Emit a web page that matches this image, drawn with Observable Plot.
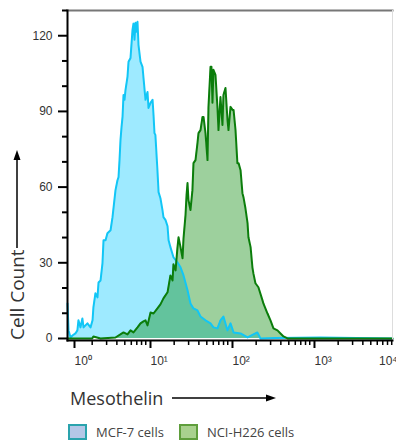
<!DOCTYPE html>
<html>
<head>
<meta charset="utf-8">
<script src="https://cdn.jsdelivr.net/npm/d3@7"></script>
<script src="https://cdn.jsdelivr.net/npm/@observablehq/plot@0.6"></script>
<style>
  html, body { margin: 0; padding: 0; background: #fff; }
  #wrap { position: relative; width: 396px; height: 440px; overflow: hidden; font-family: "Open Sans", "Liberation Sans", sans-serif; color: #333; }
  #chart { position: absolute; left: 0; top: 0; }
  #ylab { position: absolute; width: 196px; height: 26px; left: -81px; top: 229px; display: flex; align-items: center; transform: rotate(-90deg); font-size: 19px; white-space: nowrap; }
  #xlab { position: absolute; left: 70px; top: 386px; display: flex; align-items: center; font-size: 18px; white-space: nowrap; }
  #legend { position: absolute; left: 68px; top: 423px; display: flex; align-items: center; font-size: 13px; color: #444; white-space: nowrap; }
  .sw { width: 15px; height: 12px; border: 2px solid; margin-right: 9px; }
</style>
</head>
<body>
<div id="wrap">
  <div id="chart"></div>
  <div id="ylab"><span>Cell Count</span><svg width="98" height="12" style="margin-left:1px"><line x1="0" y1="6" x2="90" y2="6" stroke="#000" stroke-width="1.5"/><polygon points="98,6 88,2.5 88,9.5" fill="#000"/></svg></div>
  <div id="xlab"><span>Mesothelin</span><svg width="112" height="12" style="margin-left:9px"><line x1="0" y1="6" x2="96" y2="6" stroke="#000" stroke-width="1.5"/><polygon points="104,6 94,2.5 94,9.5" fill="#000"/></svg></div>
  <div id="legend"></div>
</div>
<script>
// ---- data ----
const seriesNames = ["MCF-7 cells", "NCI-H226 cells"];
const mcfX = [1.0,1.03,1.09,1.15,1.25,1.32,1.36,1.44,1.52,1.57,1.75,1.91,2.02,2.07,2.19,2.32,2.39,2.53,2.67,2.75,2.91,3.07,3.35,3.54,3.85,4.07,4.19,4.31,4.43,4.56,4.69,4.82,4.96,5.10,5.39,5.55,5.87,6.21,6.38,6.56,6.75,6.94,7.14,7.34,7.77,8.22,8.45,8.94,9.46,9.72,10.3,10.9,11.2,11.5,11.8,12.5,12.9,13.6,14.4,14.8,15.7,16.6,17.1,18.0,19.6,21.9,23.9,26.0,29.1,31.6,34.4,38.5,41.9,48.2,55.5,60.3,67.5,73.4,79.8,89.4,97.3,106,129,157,207,226,344,1217,9190];
const mcfY = [13.9,3.2,0.4,1.2,2.0,3.2,7.2,4.4,7.9,4.4,6.0,4.4,7.2,12.3,17.9,16.3,22.2,23.0,29.8,38.9,38.9,41.7,42.9,48.1,58.8,62.7,63.9,70.7,78.7,83.8,87.8,96.5,94.6,98.5,103.7,109.7,111.2,122.4,124.8,118.4,125.1,121.6,125.5,116.4,109.7,107.7,103.3,94.6,97.7,91.4,93.4,94.6,88.6,81.4,80.7,66.7,58.0,55.6,50.9,48.1,46.9,44.5,38.9,36.2,32.2,30.2,28.2,25.0,19.1,13.9,11.9,11.1,8.7,7.2,6.0,4.4,4.0,7.2,8.7,3.2,6.0,2.4,2.0,0.4,2.4,0,0.2,0.4,0];
const nciX = [1.0,2.0,2.07,2.53,3.85,4.82,5.39,5.87,6.38,7.14,7.77,8.45,8.94,9.46,10.3,11.2,12.5,13.6,14.8,16.6,18.0,19.1,19.6,20.8,21.9,22.6,23.9,25.3,26.0,27.5,28.3,29.1,29.9,31.6,33.4,34.4,36.4,38.5,39.6,41.9,44.3,45.6,48.2,51.0,52.4,55.5,57.0,58.6,60.3,63.8,67.5,69.4,73.4,77.6,79.8,84.5,89.4,91.9,97.3,103,106,112,118,122,129,136,140,148,157,161,171,180,185,196,213,239,245,275,299,325,364,396,431,482,693,9190];
const nciY = [0,0,0.8,0,0.4,2.4,1.6,3.2,2.4,4.4,6.0,6.8,7.2,5.2,10.3,9.9,11.9,13.5,15.9,18.3,25.0,23.0,29.4,27.0,35.8,40.1,36.2,31.8,39.7,48.9,56.8,61.6,54.8,50.9,58.8,69.5,70.7,77.5,81.4,82.6,87.8,87.8,81.4,70.7,91.8,107.7,107.7,93.4,106.5,104.5,91.4,82.6,95.7,84.6,96.5,99.3,86.6,82.6,91.8,90.6,90.6,82.6,69.5,69.5,66.7,57.6,56.0,51.6,45.7,40.1,36.2,28.2,25.8,21.9,20.3,15.1,13.9,9.9,7.2,4.0,3.2,2.0,0.8,0,0,0];
const yMajorTicks = [0, 30, 60, 90, 120];
const yMinorTicks = [10, 20, 40, 50, 70, 80, 100, 110, 130];
const xMajorTicks = [1, 10, 100, 1000, 10000];
const xMinorTicks = [2,3,4,5,6,7,8,9,20,30,40,50,60,70,80,90,200,300,400,500,600,700,800,900,2000,3000,4000,5000,6000,7000,8000,9000];

// ---- tables ----
const mcf = mcfX.map((x, i) => ({x, y: mcfY[i]}));
const nci = nciX.map((x, i) => ({x, y: nciY[i]}));
const supDigits = {0: "\u2070", 1: "\u00B9", 2: "\u00B2", 3: "\u00B3", 4: "\u2074"};
const fmt = d => "10" + supDigits[Math.round(Math.log10(d))];

const chart = Plot.plot({
  width: 396,
  height: 372,
  marginLeft: 67,
  marginRight: 4,
  marginTop: 10,
  marginBottom: 32,
  style: {fontFamily: "'Liberation Sans', Arial, sans-serif", fontSize: "12px", color: "#333", background: "#fff", overflow: "visible"},
  x: {type: "log", domain: [1, 9200]},
  y: {domain: [-0.8, 130]},
  marks: [
    Plot.areaY(mcf, {x: "x", y: "y", fill: "#00c8ff", fillOpacity: 0.38}),
    Plot.areaY(nci, {x: "x", y: "y", fill: "#0a8a0a", fillOpacity: 0.4}),
    Plot.lineY(mcf, {x: "x", y: "y", stroke: "#12c6f6", strokeWidth: 2}),
    Plot.lineY(nci, {x: "x", y: "y", stroke: "#0b7d0b", strokeWidth: 2}),
    Plot.frame({anchor: "top", stroke: "#777", strokeWidth: 2}),
    Plot.frame({anchor: "right", stroke: "#ddd", strokeWidth: 1}),
    Plot.frame({anchor: "left", stroke: "#000", strokeWidth: 2}),
    Plot.frame({anchor: "bottom", stroke: "#000", strokeWidth: 2}),
    Plot.axisY({ticks: yMajorTicks, tickSize: 9, tickPadding: 6, strokeWidth: 2, stroke: "#000", fill: "#333", label: null, fontSize: 12}),
    Plot.axisY({ticks: yMinorTicks, tickSize: 5, text: null, strokeWidth: 2, stroke: "#000", label: null}),
    Plot.axisX({ticks: xMinorTicks, tickSize: 5, text: null, strokeWidth: 1.5, stroke: "#000", label: null}),
    Plot.axisX({ticks: xMajorTicks.slice(1, 4), tickSize: 8, tickPadding: 8, tickFormat: fmt, textAnchor: "start", dx: 1, strokeWidth: 2, stroke: "#000", fill: "#333", label: null, fontSize: 12}),
    Plot.axisX({ticks: xMajorTicks.slice(0, 1), tickSize: 8, tickPadding: 8, tickFormat: fmt, textAnchor: "start", dx: 7, strokeWidth: 2, stroke: "#000", fill: "#333", label: null, fontSize: 12}),
    Plot.axisX({ticks: xMajorTicks.slice(4), tickSize: 8, tickPadding: 8, tickFormat: fmt, textAnchor: "end", dx: 2, strokeWidth: 2, stroke: "#000", fill: "#333", label: null, fontSize: 12})
  ]
});
document.getElementById("chart").appendChild(chart);

// ---- legend ----
const legendStyles = [
  {fill: "#b4c7e7", border: "#2aa3ad"},
  {fill: "#a9d18e", border: "#5f9e3c"}
];
const legend = document.getElementById("legend");
seriesNames.forEach((name, i) => {
  const sw = document.createElement("div");
  sw.className = "sw";
  sw.style.background = legendStyles[i].fill;
  sw.style.borderColor = legendStyles[i].border;
  const t = document.createElement("span");
  t.textContent = name;
  t.style.marginRight = i === 0 ? "15px" : "0";
  legend.appendChild(sw);
  legend.appendChild(t);
});
</script>
</body>
</html>
